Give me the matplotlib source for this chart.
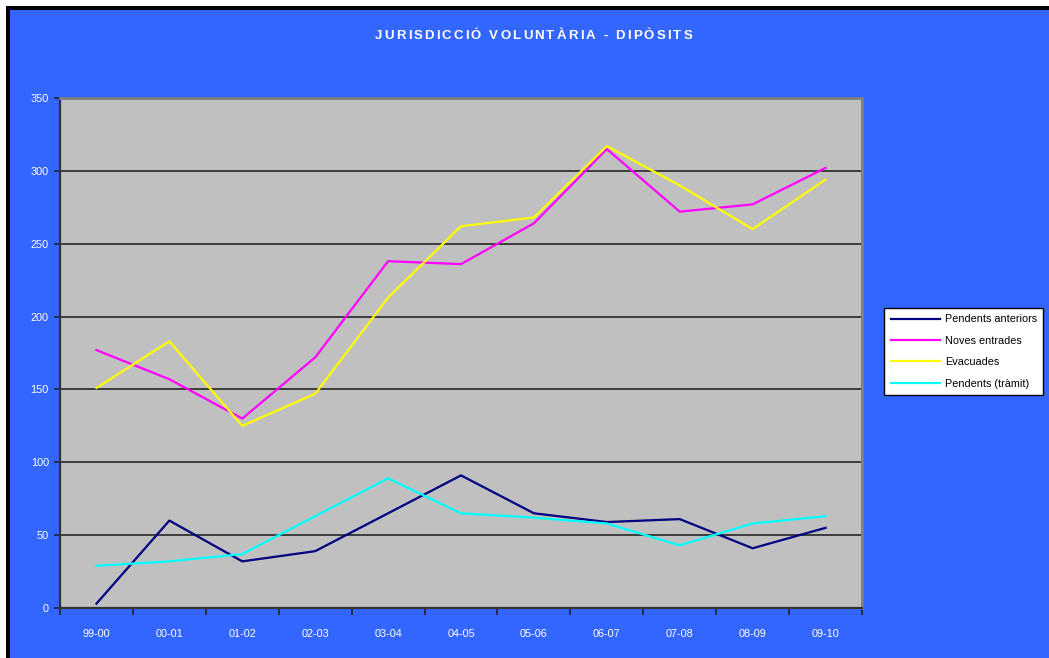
import matplotlib
matplotlib.use("Agg")
import matplotlib.pyplot as plt
from matplotlib.patches import Rectangle
import numpy as np

plt.rcParams['font.family'] = ['Liberation Sans', 'DejaVu Sans']

categories = ["99-00", "00-01", "01-02", "02-03", "03-04", "04-05",
              "05-06", "06-07", "07-08", "08-09", "09-10"]
pendents_anteriors = [3, 60, 32, 39, 65, 91, 65, 59, 61, 41, 55]
noves_entrades = [177, 157, 130, 172, 238, 236, 264, 315, 272, 277, 302]
evacuades = [151, 183, 125, 147, 213, 262, 268, 317, 290, 260, 294]
pendents_tramit = [29, 32, 37, 63, 89, 65, 62, 58, 43, 58, 63]

series = [
    ("Pendents anteriors", pendents_anteriors, "#000080"),
    ("Noves entrades", noves_entrades, "#FF00FF"),
    ("Evacuades", evacuades, "#FFFF00"),
    ("Pendents (tràmit)", pendents_tramit, "#00FFFF"),
]
title = "JURISDICCIÓ VOLUNTÀRIA - DIPÒSITS"

W, H = 1049, 658
fig = plt.figure(figsize=(W / 100, H / 100), dpi=100)
fig.patch.set_facecolor("white")
fig.patches.append(Rectangle((6 / W, 0), 1, (H - 6) / H, transform=fig.transFigure,
                             facecolor="black", edgecolor="none", zorder=-10))
fig.patches.append(Rectangle((10 / W, 0), 1, (H - 10) / H, transform=fig.transFigure,
                             facecolor="#3366FF", edgecolor="none", zorder=-9))

ax = fig.add_axes([60 / W, 1 - 608 / H, (862 - 60) / W, (608 - 98) / H])
ax.set_facecolor("#C0C0C0")

x = np.arange(len(categories))
handles = []
for name, vals, col in series:
    h, = ax.plot(x, vals, color=col, lw=1.6, label=name, zorder=3)
    handles.append(h)

ax.set_xlim(-0.5, len(categories) - 0.5)
ax.set_ylim(0, 350)
ax.set_yticks(np.arange(0, 351, 50))
ax.set_xticks(x)
ax.set_xticklabels(categories)
ax.set_xticks(np.arange(-0.5, len(categories), 1), minor=True)
ax.tick_params(axis="x", which="major", length=0, pad=15, labelsize=7.8, labelcolor="white")
ax.tick_params(axis="x", which="minor", length=5, width=1.2, color="#222222", direction="out")
ax.tick_params(axis="y", which="major", length=4, width=1.2, color="#222222", direction="out",
               labelsize=7.8, labelcolor="white", pad=4)
ax.yaxis.grid(True, color="#333333", lw=1.3, zorder=1)
ax.set_axisbelow(True)

for s in ["left", "bottom"]:
    ax.spines[s].set_color("#333333")
    ax.spines[s].set_linewidth(1.6)
for s in ["top", "right"]:
    ax.spines[s].set_color("#808080")
    ax.spines[s].set_linewidth(2)

# Title with letter spacing (drawn character by character)
renderer = fig.canvas.get_renderer()
tstyle = dict(color="white", fontsize=9.5, fontweight="bold", va="center", ha="left")
widths = []
for ch in title:
    if ch == " ":
        t = fig.text(0, 0, "a a", **tstyle)
        t2 = fig.text(0, 0, "aa", **tstyle)
        w = t.get_window_extent(renderer).width - t2.get_window_extent(renderer).width
        t.remove(); t2.remove()
    else:
        t = fig.text(0, 0, ch, **tstyle)
        w = t.get_window_extent(renderer).width
        t.remove()
    widths.append(w)
x0_px, x1_px = 375, 692
gap = max(0.0, (x1_px - x0_px - sum(widths)) / (len(title) - 1))
cur = x0_px
for ch, w in zip(title, widths):
    if ch != " ":
        fig.text(cur / W, 1 - 36 / H, ch, **tstyle)
    cur += w + gap

leg = fig.legend(handles=handles, loc="upper left",
                 bbox_to_anchor=(884 / W, 1 - 308 / H),
                 fontsize=7.8, frameon=True, fancybox=False, edgecolor="black",
                 facecolor="white", framealpha=1, borderpad=0.6, labelspacing=1.05,
                 handlelength=4.6, handletextpad=0.4, borderaxespad=0)
leg.get_frame().set_linewidth(1)

fig.savefig("out.png", dpi=100)
